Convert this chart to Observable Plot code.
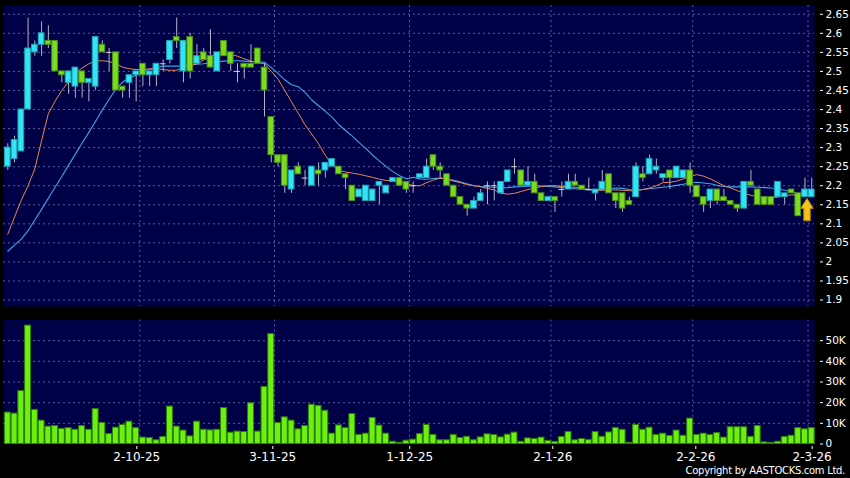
<!DOCTYPE html>
<html><head><meta charset="utf-8">
<script src="https://cdn.jsdelivr.net/npm/d3@7"></script>
<script src="https://cdn.jsdelivr.net/npm/@observablehq/plot@0.6"></script>
<style>
html,body{margin:0;padding:0;background:#000;}
#chart{position:relative;width:850px;height:478px;background:#000;overflow:hidden;font-family:"DejaVu Sans",Verdana,sans-serif;}
#price{position:absolute;left:0;top:0;}
#vol{position:absolute;left:0;top:312px;}
#copy{position:absolute;right:5px;top:465px;color:#fff;font-size:10px;line-height:11px;letter-spacing:-0.3px;}
svg{display:block;}
</style></head><body>
<div id="chart"><div id="price"></div><div id="vol"></div><div id="copy">Copyright by AASTOCKS.com Ltd.</div></div>
<script>
const opens = [2.25,2.27,2.29,2.40,2.55,2.57,2.58,2.58,2.50,2.47,
 2.46,2.50,2.47,2.46,2.57,2.55,2.55,2.46,2.47,2.49,
 2.52,2.49,2.49,2.52,2.53,2.59,2.50,2.59,2.52,2.55,
 2.54,2.50,2.58,2.55,2.50,2.52,2.52,2.56,2.51,2.38,
 2.28,2.28,2.19,2.25,2.22,2.20,2.24,2.24,2.25,2.25,
 2.23,2.20,2.17,2.16,2.16,2.20,2.18,2.21,2.22,2.21,
 2.20,2.22,2.22,2.28,2.25,2.23,2.20,2.17,2.15,2.14,
 2.16,2.20,2.20,2.18,2.21,2.25,2.24,2.20,2.21,2.18,
 2.16,2.17,2.19,2.19,2.21,2.20,2.19,2.18,2.19,2.23,
 2.18,2.18,2.16,2.17,2.23,2.23,2.24,2.22,2.24,2.22,
 2.22,2.24,2.20,2.17,2.16,2.19,2.17,2.16,2.15,2.14,
 2.21,2.19,2.17,2.17,2.17,2.17,2.19,2.18,2.17,2.17];
const highs = [2.31,2.33,2.40,2.64,2.58,2.63,2.62,2.58,2.50,2.50,
 2.51,2.50,2.48,2.59,2.58,2.56,2.55,2.46,2.49,2.50,
 2.52,2.50,2.52,2.53,2.58,2.64,2.58,2.60,2.57,2.56,
 2.61,2.55,2.58,2.55,2.52,2.52,2.57,2.56,2.52,2.38,
 2.28,2.28,2.24,2.26,2.24,2.25,2.26,2.26,2.27,2.25,
 2.23,2.20,2.19,2.20,2.19,2.21,2.20,2.22,2.22,2.21,
 2.21,2.23,2.27,2.28,2.26,2.23,2.20,2.17,2.15,2.17,
 2.19,2.21,2.21,2.21,2.24,2.27,2.24,2.25,2.23,2.18,
 2.17,2.17,2.21,2.23,2.23,2.20,2.22,2.19,2.24,2.23,
 2.18,2.18,2.17,2.26,2.25,2.28,2.27,2.23,2.24,2.25,
 2.24,2.26,2.20,2.17,2.19,2.19,2.19,2.16,2.15,2.21,
 2.24,2.19,2.17,2.17,2.21,2.18,2.19,2.18,2.22,2.22];
const lows = [2.24,2.26,2.29,2.40,2.54,2.54,2.56,2.50,2.47,2.44,
 2.43,2.43,2.42,2.45,2.55,2.50,2.45,2.43,2.43,2.42,
 2.46,2.46,2.46,2.50,2.52,2.56,2.47,2.48,2.52,2.53,
 2.51,2.50,2.54,2.50,2.47,2.48,2.51,2.52,2.38,2.26,
 2.25,2.18,2.18,2.23,2.20,2.20,2.20,2.22,2.25,2.23,
 2.19,2.16,2.17,2.16,2.16,2.15,2.18,2.21,2.20,2.18,
 2.18,2.22,2.22,2.24,2.22,2.20,2.17,2.15,2.12,2.14,
 2.16,2.15,2.16,2.18,2.21,2.23,2.20,2.20,2.18,2.16,
 2.16,2.13,2.17,2.19,2.20,2.19,2.19,2.16,2.19,2.18,
 2.14,2.13,2.15,2.17,2.21,2.23,2.23,2.21,2.19,2.22,
 2.22,2.18,2.17,2.13,2.14,2.15,2.16,2.15,2.13,2.14,
 2.20,2.15,2.15,2.15,2.17,2.15,2.18,2.12,2.17,2.17];
const closes = [2.30,2.32,2.40,2.56,2.57,2.60,2.57,2.50,2.49,2.50,
 2.51,2.47,2.48,2.59,2.55,2.55,2.45,2.45,2.49,2.50,
 2.49,2.50,2.52,2.52,2.58,2.58,2.58,2.50,2.54,2.53,
 2.51,2.55,2.54,2.52,2.50,2.51,2.51,2.52,2.45,2.28,
 2.26,2.20,2.24,2.23,2.22,2.25,2.23,2.26,2.27,2.23,
 2.22,2.16,2.19,2.20,2.19,2.21,2.20,2.22,2.20,2.19,
 2.20,2.23,2.25,2.25,2.24,2.20,2.17,2.15,2.14,2.16,
 2.18,2.20,2.20,2.21,2.24,2.25,2.20,2.21,2.18,2.16,
 2.17,2.16,2.19,2.21,2.20,2.19,2.19,2.19,2.21,2.18,
 2.16,2.14,2.15,2.25,2.22,2.27,2.25,2.23,2.22,2.25,
 2.24,2.20,2.17,2.15,2.19,2.16,2.16,2.15,2.14,2.21,
 2.20,2.15,2.15,2.15,2.21,2.18,2.18,2.12,2.19,2.19];
const volumes = [15200,14700,25600,57300,16500,11300,8400,8700,7300,7700,
 6900,8700,6900,16900,10200,4800,7900,9200,10800,7700,
 3100,2900,1800,3400,18100,8400,6500,3700,10800,6900,
 6600,6900,17400,5500,6000,5800,19700,6000,27600,53200,
 10200,12900,11300,7100,8700,19000,18500,16100,5000,9000,
 7700,14500,4400,5000,12600,8900,5000,1100,600,1600,
 2100,4800,9200,4400,1800,1800,4400,2900,3500,1800,
 3200,4700,4400,3200,4500,5500,1100,2700,2400,3100,
 1500,1000,3400,5800,1800,2400,1900,5800,3500,5600,
 7800,6900,600,9200,6900,7900,4400,5000,3900,6500,
 4000,12300,4400,5000,4400,5300,3100,8100,8100,8100,
 3500,8700,800,600,1100,3400,4000,7700,7100,7700];
const maFast = [2.073,2.118,2.162,2.20,2.244,2.318,2.389,2.422,2.45,2.473,
 2.496,2.509,2.52,2.527,2.528,2.526,2.52,2.511,2.507,2.505,
 2.505,2.507,2.507,2.505,2.503,2.503,2.51,2.515,2.52,2.53,
 2.54,2.545,2.546,2.545,2.54,2.533,2.527,2.523,2.52,2.50,
 2.48,2.45,2.42,2.39,2.36,2.335,2.31,2.28,2.255,2.24,
 2.236,2.233,2.23,2.226,2.222,2.217,2.214,2.212,2.21,2.206,
 2.20,2.20,2.208,2.215,2.22,2.218,2.212,2.208,2.203,2.20,
 2.197,2.193,2.189,2.18,2.178,2.18,2.185,2.19,2.194,2.198,
 2.20,2.20,2.198,2.197,2.196,2.194,2.19,2.187,2.188,2.189,
 2.189,2.188,2.187,2.186,2.19,2.194,2.20,2.208,2.209,2.212,
 2.218,2.225,2.229,2.225,2.218,2.209,2.20,2.194,2.187,2.18,
 2.175,2.17,2.169,2.169,2.17,2.174,2.176,2.176,2.176,2.172];
const maSlow = [2.028,2.044,2.06,2.082,2.11,2.138,2.167,2.196,2.224,2.254,
 2.283,2.312,2.34,2.369,2.399,2.427,2.454,2.472,2.483,2.49,
 2.50,2.505,2.51,2.514,2.514,2.514,2.515,2.517,2.519,2.52,
 2.523,2.525,2.527,2.528,2.528,2.527,2.526,2.525,2.524,2.51,
 2.495,2.478,2.465,2.46,2.445,2.425,2.41,2.395,2.38,2.36,
 2.345,2.33,2.313,2.298,2.28,2.265,2.25,2.237,2.226,2.218,
 2.222,2.218,2.217,2.219,2.22,2.218,2.214,2.21,2.205,2.20,
 2.198,2.197,2.196,2.194,2.195,2.197,2.198,2.199,2.20,2.199,
 2.198,2.197,2.195,2.194,2.192,2.19,2.189,2.19,2.19,2.192,
 2.194,2.193,2.19,2.189,2.19,2.192,2.194,2.196,2.198,2.201,
 2.204,2.207,2.209,2.207,2.205,2.201,2.198,2.197,2.197,2.197,
 2.197,2.196,2.195,2.194,2.192,2.188,2.184,2.179,2.178,2.178];
const tickLabels = ["2-10-25","3-11-25","1-12-25","2-1-26","2-2-26","2-3-26"];
const tickBars = [20.09, 40.22, 60.5, 81.67, 102.84, 120.06];
const gridBars = [20.54, 40.47, 60.46, 81.4, 102.39, 119.45];
const priceTicks = [1.9,1.95,2.0,2.05,2.1,2.15,2.2,2.25,2.3,2.35,2.4,2.45,2.5,2.55,2.6,2.65];
const volumeTicks = [0,10000,20000,30000,40000,50000];
const arrowAt = [{bar: 119.3, price: 2.109}];

const rows = closes.map((c, k) => ({i: k + 1, o: opens[k], h: highs[k], l: lows[k], c, v: volumes[k], f: maFast[k], s: maSlow[k]}));
const upRows = rows.filter(d => d.c > d.o);
const downRows = rows.filter(d => d.c < d.o);
const dojiRows = rows.filter(d => d.c === d.o);
const xDomain = [0.3635, 120.41];
const HW = 0.42;
const BG = "#000046";
const GRID = {stroke: "#5a5aa0", strokeDasharray: "2,3", strokeWidth: 1};
const baseStyle = {background: "transparent", color: "#fff", fontFamily: "DejaVu Sans, Verdana, sans-serif", fontSize: "10.5px", overflow: "visible"};

const arrowShape = {
  draw(ctx, l) {
    const hw = 6.3, sw = 3.2, hl = 10;
    ctx.moveTo(-sw, 0);
    ctx.lineTo(-sw, -(l - hl));
    ctx.lineTo(-hw, -(l - hl));
    ctx.lineTo(0, -l);
    ctx.lineTo(hw, -(l - hl));
    ctx.lineTo(sw, -(l - hl));
    ctx.lineTo(sw, 0);
    ctx.closePath();
  }
};

const price = Plot.plot({
  width: 850, height: 312,
  marginLeft: 3, marginRight: 36, marginTop: 5, marginBottom: 6,
  style: baseStyle,
  x: {domain: xDomain, axis: null},
  y: {domain: [1.883, 2.673], axis: null},
  marks: [
    Plot.frame({fill: BG, stroke: null}),
    Plot.ruleY(priceTicks, GRID),
    Plot.ruleX(gridBars, GRID),
    Plot.line(rows, {x: "i", y: "s", stroke: "#3ea4ec", strokeWidth: 1.1}),
    Plot.line(rows, {x: "i", y: "f", stroke: "#e8874f", strokeWidth: 1}),
    Plot.ruleX(rows, {x: "i", y1: "l", y2: "h", stroke: "#b4b4c4", strokeWidth: 1}),
    Plot.rect(upRows, {x1: d => d.i - HW, x2: d => d.i + HW, y1: "o", y2: "c", fill: "#33e4f4", stroke: "#1ea3b4", strokeWidth: 1}),
    Plot.rect(downRows, {x1: d => d.i - HW, x2: d => d.i + HW, y1: "o", y2: "c", fill: "#7adb22", stroke: "#4a9214", strokeWidth: 1}),
    Plot.ruleY(dojiRows, {x1: d => d.i - HW, x2: d => d.i + HW, y: "o", stroke: "#d0d0d8", strokeWidth: 1}),
    Plot.vector(arrowAt, {x: "bar", y: "price", length: 22, anchor: "start", shape: arrowShape, fill: "#f6c419", stroke: "#b88a00", strokeWidth: 1}),
    Plot.axisY(priceTicks, {anchor: "right", label: null, tickSize: 3, tickPadding: 3, dx: 5, tickFormat: d => String(+d.toFixed(2)), fontSize: 10.5})
  ]
});
document.getElementById("price").append(price);

const vol = Plot.plot({
  width: 850, height: 166,
  marginLeft: 3, marginRight: 36, marginTop: 7.5, marginBottom: 34.5,
  style: baseStyle,
  x: {domain: xDomain, axis: null},
  y: {domain: [0, 60000], axis: null},
  marks: [
    Plot.frame({fill: BG, stroke: null}),
    Plot.ruleY(volumeTicks.filter(v => v > 0), GRID),
    Plot.ruleX(gridBars, GRID),
    Plot.rect(rows, {x1: d => d.i - 0.44, x2: d => d.i + 0.44, y1: 0, y2: "v", fill: "#6cf011", stroke: "#2f7d05", strokeWidth: 1}),
    Plot.axisY(volumeTicks, {anchor: "right", label: null, tickSize: 3, tickPadding: 3, dx: 5, tickFormat: d => d === 0 ? "0" : d / 1000 + "K", fontSize: 10.5}),
    Plot.axisX(tickBars, {anchor: "bottom", label: null, tickSize: 3, tickPadding: 3, dy: 2.5, tickFormat: d => tickLabels[tickBars.indexOf(d)], fontSize: 12})
  ]
});
document.getElementById("vol").append(vol);
</script>
</body></html>
